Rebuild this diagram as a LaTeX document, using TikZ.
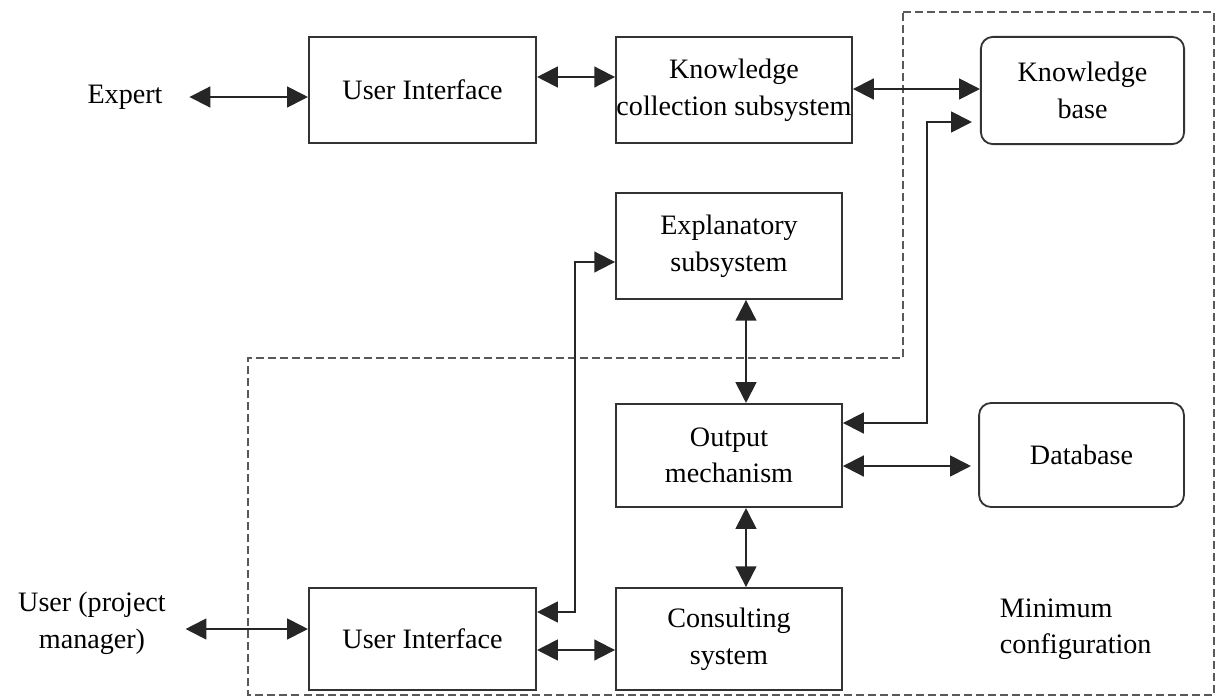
\documentclass[tikz,border=0pt]{standalone}
\usepackage{fontspec}
\setmainfont{Liberation Serif}
\usetikzlibrary{arrows.meta}

\begin{document}
\begin{tikzpicture}[x=0.025cm, y=-0.025cm,
    every node/.style={font=\fontsize{20}{26}\selectfont, align=center},
    block/.style={draw=black!80, line width=1.3pt, inner sep=0pt},
    roundblock/.style={block, rounded corners=0.3cm},
    biarrow/.style={{Triangle[length=0.52cm,width=0.52cm]}-{Triangle[length=0.52cm,width=0.52cm]}, line width=1.4pt, draw=black!85},
    region/.style={draw=black!65, line width=1.1pt, dash pattern=on 0.2cm off 0.1cm}]
    \useasboundingbox (0,0) rectangle (1222,697);

    % minimum configuration region
    \draw[region] (903,12) -- (1214,12) -- (1214,695) -- (248,695) -- (248,358) -- (903,358) -- cycle;

    \node (expert) at (125,97) {Expert};
    \node (user) at (92,623) {User (project\\manager)};
    \node[align=left, anchor=west] (minconf) at (995,629) {Minimum\\configuration};

    \node[block, minimum width=5.68cm, minimum height=2.65cm] (ui1) at (422.5,90) {User Interface};
    \node[block, minimum width=5.9cm, minimum height=2.65cm] (kcs) at (734,90) {Knowledge\\collection subsystem};
    \node[roundblock, minimum width=5.08cm, minimum height=2.68cm] (kb) at (1082.5,90.5) {Knowledge\\base};
    \node[block, minimum width=5.65cm, minimum height=2.65cm] (expl) at (729,246) {Explanatory\\subsystem};
    \node[block, minimum width=5.65cm, minimum height=2.58cm] (out) at (729,455.5) {Output\\mechanism};
    \node[roundblock, minimum width=5.12cm, minimum height=2.6cm] (db) at (1081.5,455) {Database};
    \node[block, minimum width=5.68cm, minimum height=2.55cm] (ui2) at (422.5,639) {User Interface};
    \node[block, minimum width=5.65cm, minimum height=2.55cm] (cons) at (729,639) {Consulting\\system};

    \draw[biarrow] ([xshift=0.55cm]expert.east) -- (ui1.west |- expert);
    \draw[biarrow] (ui1.east |- 0,77) -- (kcs.west |- 0,77);
    \draw[biarrow] (kcs.east |- 0,89) -- (kb.west |- 0,89);
    \draw[biarrow] (out.east |- 0,423) -- (927,423) |- ([xshift=-0.2cm]kb.west |- 0,122);
    \draw[biarrow] (out.east |- 0,466) -- ([xshift=-0.18cm]db.west |- 0,466);
    \draw[biarrow] (expl.south -| 746,0) -- (out.north -| 746,0);
    \draw[biarrow] (out.south -| 746,0) -- (cons.north -| 746,0);
    \draw[biarrow] (ui2.east |- 0,612) -- (575,612) |- (expl.west |- 0,262);
    \draw[biarrow] (ui2.east |- 0,650) -- (cons.west |- 0,650);
    \draw[biarrow] ([xshift=0.37cm]user.east |- 0,629) -- (ui2.west |- 0,629);
\end{tikzpicture}
\end{document}
